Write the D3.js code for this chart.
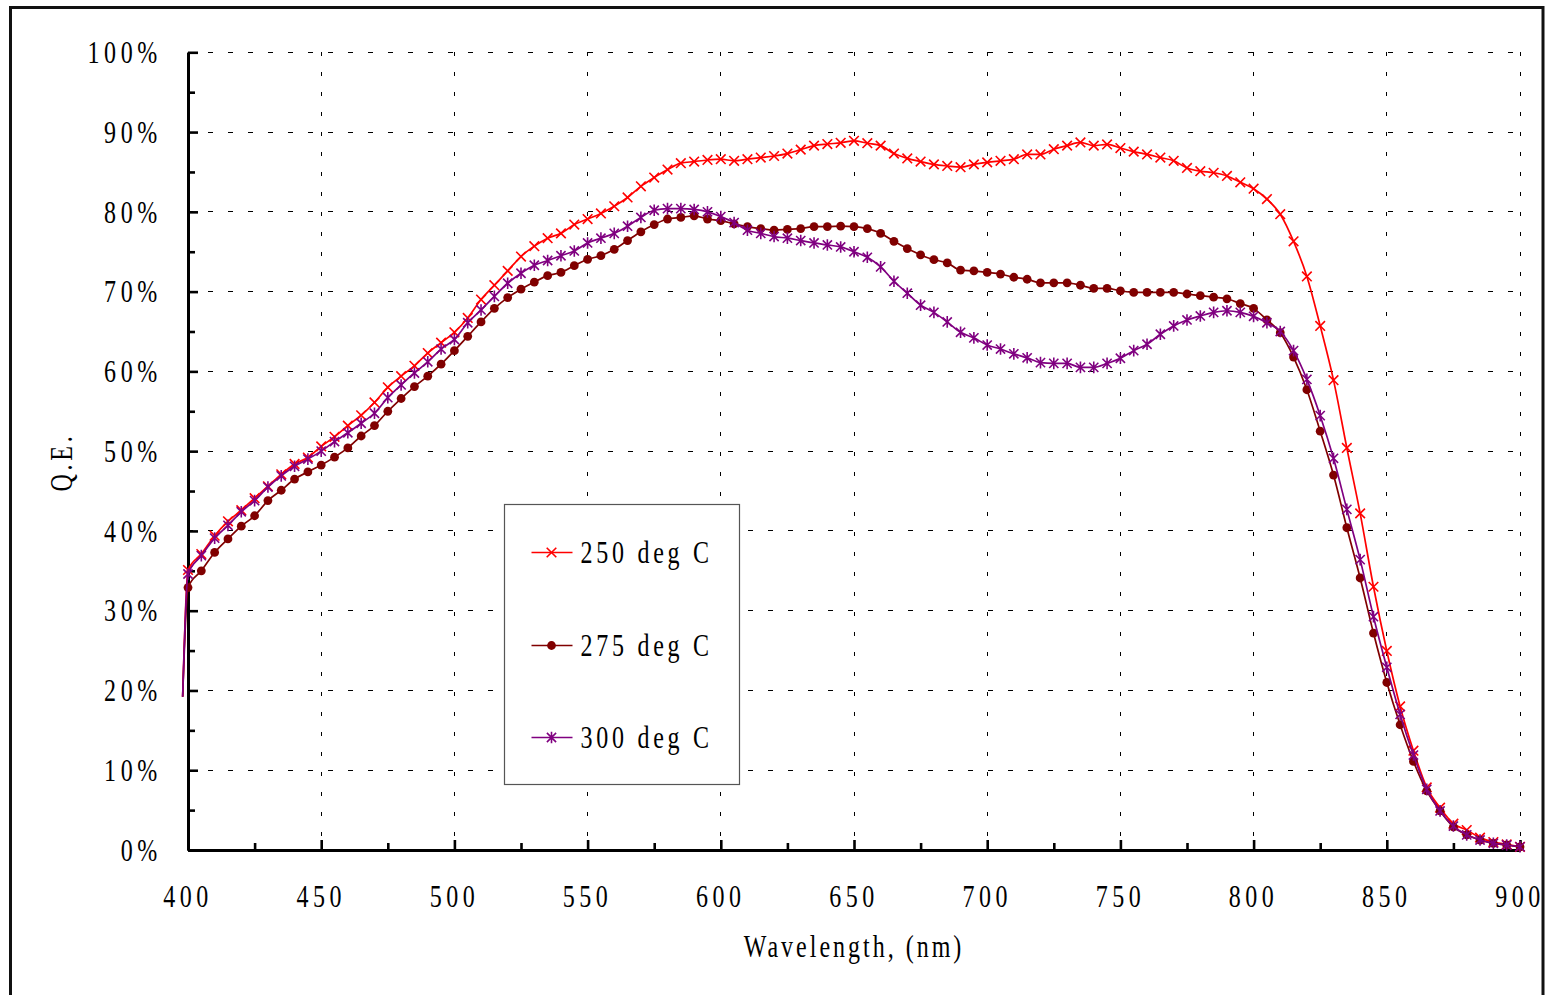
<!DOCTYPE html>
<html>
<head>
<meta charset="utf-8">
<title>Q.E. vs Wavelength</title>
<script src="https://cdn.jsdelivr.net/npm/d3@7"></script>
<style>
  html, body { margin: 0; padding: 0; background: #fff; }
  svg { display: block; }
</style>
</head>
<body>
<svg id="chart" width="1545" height="995"></svg>
<script>
// Wavelength samples (nm); the first sample is the lead-in point below the axis start.
const wavelengths = [398,
  400,405,410,415,420,425,430,435,440,445,
  450,455,460,465,470,475,480,485,490,495,
  500,505,510,515,520,525,530,535,540,545,
  550,555,560,565,570,575,580,585,590,595,
  600,605,610,615,620,625,630,635,640,645,
  650,655,660,665,670,675,680,685,690,695,
  700,705,710,715,720,725,730,735,740,745,
  750,755,760,765,770,775,780,785,790,795,
  800,805,810,815,820,825,830,835,840,845,
  850,855,860,865,870,875,880,885,890,895,
  900];

// Quantum efficiency (%) per anneal temperature
const qe250 = [19.2,
  35.1,37.1,39.4,41.2,42.6,44.1,45.6,47.1,48.4,49.2,
  50.6,51.8,53.2,54.5,56.1,58.0,59.4,60.7,62.3,63.6,
  64.9,66.7,69.0,70.8,72.6,74.4,75.7,76.7,77.3,78.4,
  79.1,79.8,80.7,81.8,83.2,84.3,85.3,86.1,86.3,86.5,
  86.6,86.4,86.6,86.8,87.0,87.3,87.8,88.3,88.5,88.65,
  88.9,88.6,88.3,87.3,86.7,86.3,85.95,85.75,85.6,85.95,
  86.2,86.4,86.6,87.2,87.2,87.85,88.3,88.7,88.3,88.45,
  88.0,87.55,87.2,86.8,86.4,85.5,85.1,84.9,84.5,83.7,
  82.9,81.6,79.7,76.3,71.9,65.7,58.9,50.4,42.2,33.0,
  24.95,18.0,12.45,7.85,5.3,3.3,2.5,1.55,1.0,0.7,
  0.4];

const qe275 = [19.2,
  32.9,35.0,37.3,39.0,40.6,41.9,43.8,45.1,46.5,47.4,
  48.25,49.25,50.4,51.9,53.2,55.0,56.6,58.1,59.4,60.9,
  62.6,64.4,66.2,67.9,69.25,70.3,71.2,72.0,72.4,73.25,
  74.05,74.5,75.3,76.4,77.5,78.4,79.1,79.3,79.5,79.1,
  78.9,78.5,78.15,77.9,77.7,77.8,77.9,78.15,78.15,78.2,
  78.15,77.9,77.3,76.3,75.4,74.6,74.0,73.6,72.7,72.6,
  72.4,72.2,71.8,71.55,71.1,71.1,71.1,70.8,70.4,70.4,
  70.1,69.9,69.9,69.9,69.9,69.7,69.5,69.3,69.1,68.5,
  67.9,66.45,64.85,61.8,57.7,52.5,47.0,40.4,34.1,27.2,
  21.0,15.7,11.1,7.4,4.9,2.9,1.9,1.25,0.84,0.63,
  0.4];

const qe300 = [19.2,
  34.6,36.9,39.1,40.7,42.4,43.8,45.5,46.9,48.1,49.0,
  50.0,51.2,52.3,53.5,54.75,56.7,58.3,59.8,61.2,62.8,
  64.0,66.1,67.7,69.4,71.05,72.3,73.3,73.9,74.5,75.1,
  76.1,76.7,77.3,78.2,79.3,80.2,80.4,80.4,80.3,80.0,
  79.4,78.65,77.7,77.3,76.9,76.7,76.4,76.1,75.85,75.6,
  75.0,74.3,73.1,71.3,69.8,68.3,67.4,66.2,64.9,64.2,
  63.3,62.8,62.2,61.7,61.1,61.0,61.0,60.5,60.5,61.0,
  61.65,62.6,63.4,64.65,65.7,66.45,66.95,67.4,67.6,67.4,
  66.9,66.1,65.0,62.6,59.0,54.45,49.1,42.7,36.4,29.25,
  22.9,17.0,11.9,7.6,4.9,3.0,1.9,1.25,0.84,0.63,
  0.4];

const seriesNames = ["250 deg C", "275 deg C", "300 deg C"];
const seriesColors = ["#ff0000", "#800000", "#800080"];
const seriesMarkers = ["cross", "dot", "star"];

const yTickValues = [0, 10, 20, 30, 40, 50, 60, 70, 80, 90, 100];
const yTickLabels = ["0%", "10%", "20%", "30%", "40%", "50%", "60%", "70%", "80%", "90%", "100%"];
const yMinorTicks = [5, 15, 25, 35, 45, 55, 65, 75, 85, 95];
const xTickValues = [400, 450, 500, 550, 600, 650, 700, 750, 800, 850, 900];
const xTickLabels = ["400", "450", "500", "550", "600", "650", "700", "750", "800", "850", "900"];
const xMinorTicks = [425, 475, 525, 575, 625, 675, 725, 775, 825, 875];

const xTitle = "Wavelength, (nm)";
const yTitle = "Q.E.";

// ---- layout ----
const svg = d3.select("#chart");
const plotLeft = 188, plotRight = 1520, plotTop = 52.3, plotBottom = 850;
const x = d3.scaleLinear().domain([400, 900]).range([plotLeft, plotRight]);
const y = d3.scaleLinear().domain([0, 100]).range([plotBottom, plotTop]);

const FONT = "'Liberation Serif', 'Times New Roman', serif";
const SQUEEZE = 0.75;   // narrow, tall lettering

svg.append("rect").attr("width", 1545).attr("height", 995).attr("fill", "#fff");

// outer chart frame (open at the bottom of the page)
svg.append("rect")
  .attr("x", 10.5).attr("y", 7.5)
  .attr("width", 1532.5).attr("height", 1010)
  .attr("fill", "none").attr("stroke", "#111").attr("stroke-width", 3);

// ---- gridlines ----
const grid = svg.append("g").attr("class", "grid");
grid.selectAll("line.h")
  .data(yTickValues.filter(v => v > 0))
  .join("line")
  .attr("class", "h")
  .attr("x1", plotLeft).attr("x2", plotRight)
  .attr("y1", d => y(d)).attr("y2", d => y(d))
  .attr("stroke", "#000").attr("stroke-width", 1)
  .attr("stroke-dasharray", "5,15")
  .attr("shape-rendering", "crispEdges");
grid.selectAll("line.v")
  .data(xTickValues.filter(v => v > 400))
  .join("line")
  .attr("class", "v")
  .attr("x1", d => x(d)).attr("x2", d => x(d))
  .attr("y1", plotTop).attr("y2", plotBottom)
  .attr("stroke", "#000").attr("stroke-width", 1)
  .attr("stroke-dasharray", "4,16")
  .attr("shape-rendering", "crispEdges");

// ---- axes (ticks point into the plot) ----
function styleAxis(g) {
  g.select(".domain").attr("stroke", "#000").attr("stroke-width", 3);
  g.selectAll(".tick line").attr("stroke", "#000").attr("stroke-width", 2.6);
  g.selectAll(".tick text").remove();
}
svg.append("g").attr("transform", `translate(0,${plotBottom})`)
  .call(d3.axisBottom(x).tickValues(xMinorTicks).tickSize(-7).tickSizeOuter(0).tickFormat(""))
  .call(styleAxis);
svg.append("g").attr("transform", `translate(0,${plotBottom})`)
  .call(d3.axisBottom(x).tickValues(xTickValues).tickSize(-10).tickSizeOuter(0).tickFormat(""))
  .call(styleAxis);
svg.append("g").attr("transform", `translate(${plotLeft},0)`)
  .call(d3.axisLeft(y).tickValues(yMinorTicks).tickSize(-7).tickSizeOuter(0).tickFormat(""))
  .call(styleAxis);
svg.append("g").attr("transform", `translate(${plotLeft},0)`)
  .call(d3.axisLeft(y).tickValues(yTickValues).tickSize(-10).tickSizeOuter(0).tickFormat(""))
  .call(styleAxis);

// ---- text helper ----
function label(parent, str, px, py, anchor, spacing, rotate) {
  const g = parent.append("g")
    .attr("transform", `translate(${px},${py})` + (rotate ? ` rotate(${rotate})` : "") + ` scale(${SQUEEZE},1)`);
  g.append("text")
    .attr("x", 0).attr("y", 0)
    .attr("text-anchor", anchor)
    .attr("font-family", FONT)
    .attr("font-size", 32)
    .attr("letter-spacing", spacing)
    .attr("fill", "#000")
    .text(str);
  return g;
}

const labels = svg.append("g");
yTickValues.forEach((v, i) => label(labels, yTickLabels[i], 162, y(v) + 10.8, "end", 6.2));
xTickValues.forEach((v, i) => label(labels, xTickLabels[i], x(v), 906.5, "middle", 6));
label(labels, xTitle, 854, 957, "middle", 4);
label(labels, yTitle, 72, 462, "middle", 5, -90);

// ---- series ----
const seriesData = [qe250, qe275, qe300].map((vals, si) => ({
  name: seriesNames[si],
  color: seriesColors[si],
  marker: seriesMarkers[si],
  points: wavelengths.map((w, i) => ({ w, v: vals[i] }))
}));

const line = d3.line()
  .x(d => x(d.w)).y(d => y(d.v))
  .curve(d3.curveMonotoneX);

function drawMarker(g, type, color) {
  if (type === "cross") {
    g.append("path").attr("d", "M-4.8,-4.8L4.8,4.8M-4.8,4.8L4.8,-4.8")
      .attr("stroke", color).attr("stroke-width", 1.6).attr("fill", "none");
  } else if (type === "dot") {
    g.append("circle").attr("r", 4.4).attr("fill", color);
  } else {
    g.append("path").attr("d", "M-4.6,-4.6L4.6,4.6M-4.6,4.6L4.6,-4.6M0,-5.8L0,5.8")
      .attr("stroke", color).attr("stroke-width", 1.6).attr("fill", "none");
  }
}

const plot = svg.append("g");
seriesData.forEach(s => {
  plot.append("path")
    .datum(s.points)
    .attr("d", line)
    .attr("fill", "none")
    .attr("stroke", s.color)
    .attr("stroke-width", 1.7);
  const mg = plot.append("g");
  s.points.filter(p => p.w >= 400).forEach(p => {
    const m = mg.append("g").attr("transform", `translate(${x(p.w)},${y(p.v)})`);
    drawMarker(m, s.marker, s.color);
  });
});

// ---- legend ----
const legend = svg.append("g");
legend.append("rect")
  .attr("x", 504.5).attr("y", 504.5).attr("width", 235).attr("height", 280)
  .attr("fill", "#fff").attr("stroke", "#555").attr("stroke-width", 1.2);
const legendRows = [552.5, 645.5, 737.5];
seriesData.forEach((s, i) => {
  const ly = legendRows[i];
  legend.append("line")
    .attr("x1", 531.5).attr("x2", 572.5).attr("y1", ly).attr("y2", ly)
    .attr("stroke", s.color).attr("stroke-width", 1.7);
  const m = legend.append("g").attr("transform", `translate(551.5,${ly})`);
  drawMarker(m, s.marker, s.color);
  label(legend, s.name, 580.5, ly + 10.5, "start", 5);
});
</script>
</body>
</html>
